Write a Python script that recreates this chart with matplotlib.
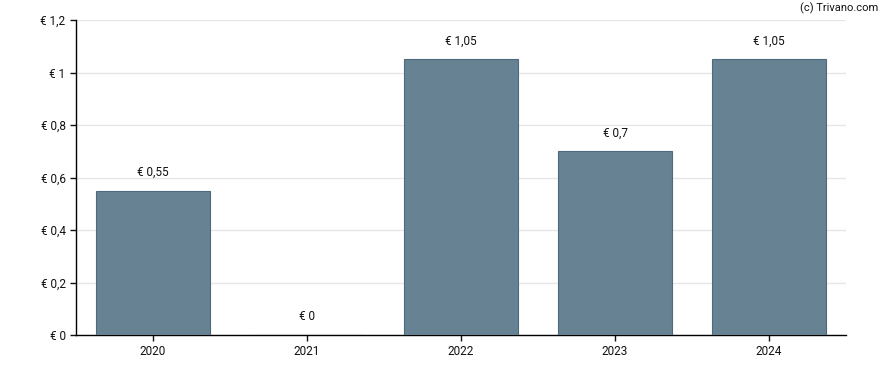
import numpy as np
import matplotlib as mpl
mpl.use('agg')
import matplotlib.pyplot as plt

plt.rcParams['font.family'] = ['Roboto', 'DejaVu Sans']

years = ['2020', '2021', '2022', '2023', '2024']
dividends = [0.55, 0.0, 1.05, 0.7, 1.05]
y_ticks = [0, 0.2, 0.4, 0.6, 0.8, 1.0, 1.2]


def euro(v):
    s = ('%.2f' % v).rstrip('0').rstrip('.')
    return '€ ' + s.replace('.', ',')


fig = plt.figure(figsize=(8.88, 3.7), dpi=100)
ax = fig.add_axes([76 / 888, 35 / 370, 770 / 888, 315 / 370])

x = np.arange(len(years))
ax.bar(x, dividends, width=0.74, color='#678393', edgecolor='#4d6a7d', linewidth=0.8, zorder=3)

for xi, v in zip(x, dividends):
    ax.text(xi, v + 0.045, euro(v), ha='center', va='bottom', fontsize=8.5, color='#111111')

ax.set_xlim(-0.5, len(years) - 0.5)
ax.set_ylim(0, 1.2)
ax.set_xticks(x)
ax.set_xticklabels(years)
ax.set_yticks(y_ticks)
ax.set_yticklabels([euro(t) for t in y_ticks])
ax.tick_params(labelsize=8.5, colors='#111111', length=4, width=1)

ax.yaxis.grid(True, color='#e6e6e6', linewidth=1, zorder=0)
ax.set_axisbelow(True)
for side in ['top', 'right']:
    ax.spines[side].set_visible(False)
for side in ['left', 'bottom']:
    ax.spines[side].set_color('black')
    ax.spines[side].set_linewidth(1)

fig.text(878 / 888, 1 - 8 / 370, '(c) Trivano.com', ha='right', va='center', fontsize=8, color='#111111')

fig.savefig('out.png', dpi=100)
